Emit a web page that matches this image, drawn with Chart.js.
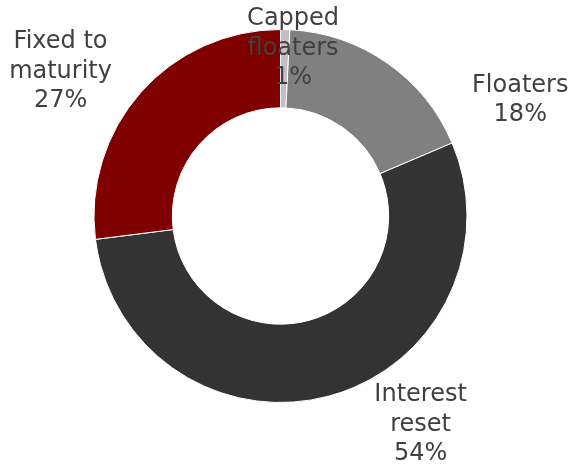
<!DOCTYPE html>
<html><head><meta charset="utf-8">
<script src="https://cdn.jsdelivr.net/npm/chart.js@4"></script>
<style>html,body{margin:0;padding:0;background:#fff;}canvas{display:block;}</style>
</head><body>
<canvas id="c" width="573" height="464"></canvas>
<script>
const categories = ['Capped\nfloaters', 'Floaters', 'Interest\nreset', 'Fixed to\nmaturity'];
const shares = [0.8, 17.8, 54.4, 27.0];
const colors = ['#c0c0c0', '#808080', '#333333', '#800000'];
// label placement: [angle from 12 o'clock clockwise in degrees, distance as multiple of outer radius]
const labelPlacement = [[4.3, 0.90], [64.2, 1.428], [146.1, 1.347], [303.3, 1.411]];

const labelPlugin = {
  id: 'sliceLabels',
  afterDraw(chart) {
    const ctx = chart.ctx;
    const arc0 = chart.getDatasetMeta(0).data[0];
    const cx = arc0.x, cy = arc0.y, R = arc0.outerRadius;
    ctx.save();
    ctx.font = '24px "DejaVu Sans", Verdana, sans-serif';
    ctx.fillStyle = '#404040';
    ctx.textAlign = 'center';
    ctx.textBaseline = 'middle';
    const lh = 29.5;
    categories.forEach((cat, i) => {
      const lines = cat.split('\n').concat([Math.round(shares[i]) + '%']);
      const [deg, k] = labelPlacement[i];
      const a = deg * Math.PI / 180;
      const x = cx + Math.sin(a) * R * k;
      const y = cy - Math.cos(a) * R * k;
      lines.forEach((t, j) => {
        ctx.fillText(t, x, y + (j - (lines.length - 1) / 2) * lh);
      });
    });
    ctx.restore();
  }
};

new Chart(document.getElementById('c'), {
  type: 'doughnut',
  data: {
    labels: categories.map(c => c.replace('\n', ' ')),
    datasets: [{
      data: shares,
      backgroundColor: colors,
      borderColor: '#ffffff',
      borderWidth: 1
    }]
  },
  options: {
    responsive: false,
    animation: false,
    cutout: '58%',
    layout: { padding: { left: 93.5, right: 105.5, top: 29, bottom: 61 } },
    plugins: { legend: { display: false }, tooltip: { enabled: false } }
  },
  plugins: [labelPlugin]
});
</script>
</body></html>
